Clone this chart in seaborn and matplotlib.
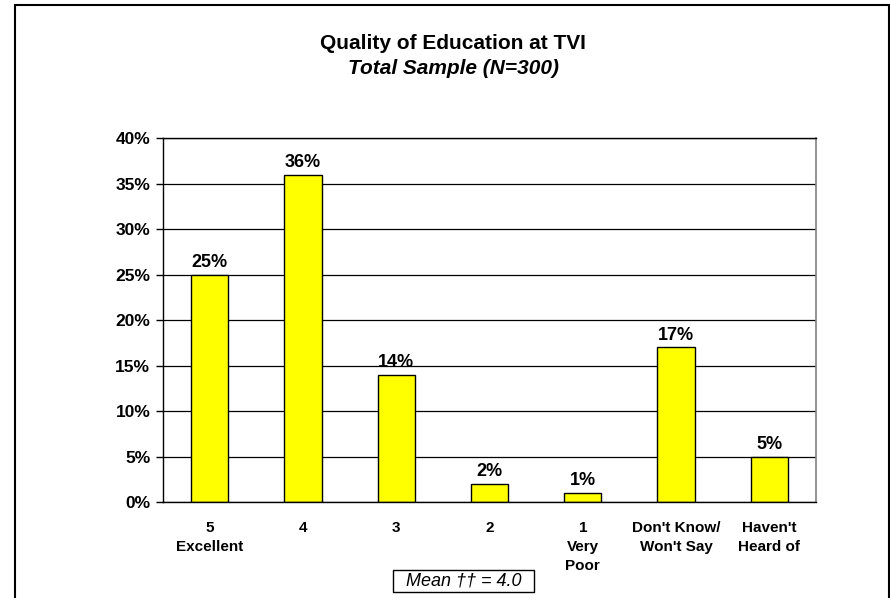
import matplotlib
matplotlib.use('Agg')
import matplotlib.pyplot as plt
import seaborn as sns
import pandas as pd
from matplotlib.patches import Rectangle

# data
categories = ['5\nExcellent', '4', '3', '2', '1\nVery\nPoor', "Don't Know/\nWon't Say", "Haven't\nHeard of"]
values = [25, 36, 14, 2, 1, 17, 5]
yticks = [0, 5, 10, 15, 20, 25, 30, 35, 40]

sns.set_style('white')
plt.rcParams['font.family'] = ['Liberation Sans', 'DejaVu Sans']
plt.rcParams['text.color'] = 'black'
plt.rcParams['xtick.color'] = 'black'
plt.rcParams['ytick.color'] = 'black'

df = pd.DataFrame({'cat': categories, 'pct': values})

fig = plt.figure(figsize=(8.9, 5.98), dpi=100)
ax = fig.add_axes([0.183, 0.1605, 0.734, 0.6085])

sns.barplot(data=df, x='cat', y='pct', ax=ax, color='#FFFF00',
            edgecolor='black', linewidth=1, width=0.4, saturation=1)

for i, v in enumerate(values):
    ax.text(i, v + 0.4, f'{v}%', ha='center', va='bottom',
            fontsize=13, fontweight='bold')

ax.set_ylim(0, 40)
ax.set_xlim(-0.5, len(categories) - 0.5)
ax.set_yticks(yticks)
ax.set_yticklabels([f'{t}%' for t in yticks], fontsize=12.5, fontweight='bold')
ax.set_xticks(range(len(categories)))
ax.set_xticklabels(categories, fontsize=11, fontweight='bold', linespacing=1.42)
ax.set_xticks([i - 0.5 for i in range(len(categories) + 1)], minor=True)
ax.tick_params(axis='x', which='major', length=0, pad=14)
ax.tick_params(axis='x', which='minor', length=5, direction='out', width=1, color='black')
ax.tick_params(axis='y', length=5, direction='out', width=1, color='black', left=True, pad=4)
ax.set_xlabel('')
ax.set_ylabel('')

ax.yaxis.grid(True, color='black', linewidth=0.9)
ax.set_axisbelow(True)
for s in ['left', 'bottom', 'top']:
    ax.spines[s].set_color('black')
    ax.spines[s].set_linewidth(1)
ax.spines['right'].set_color('#808080')
ax.spines['right'].set_linewidth(1.2)

fig.text(0.509, 0.928, 'Quality of Education at TVI', ha='center', va='center',
         fontsize=15, fontweight='bold')
fig.text(0.509, 0.886, 'Total Sample (N=300)', ha='center', va='center',
         fontsize=15, fontweight='bold', style='italic')

fig.text(0.521, 0.028, '  Mean \u2020\u2020 = 4.0  ', ha='center', va='center',
         fontsize=13, style='italic',
         bbox=dict(boxstyle='square,pad=0.15', facecolor='white', edgecolor='black',
                   linewidth=1))

# outer chart frame, open at the bottom
fig.add_artist(Rectangle((15 / 890, -0.05), 874 / 890, 1.05 - 5 / 598,
                         transform=fig.transFigure, fill=False,
                         edgecolor='black', linewidth=1.5))

fig.savefig('out.png', dpi=100)
